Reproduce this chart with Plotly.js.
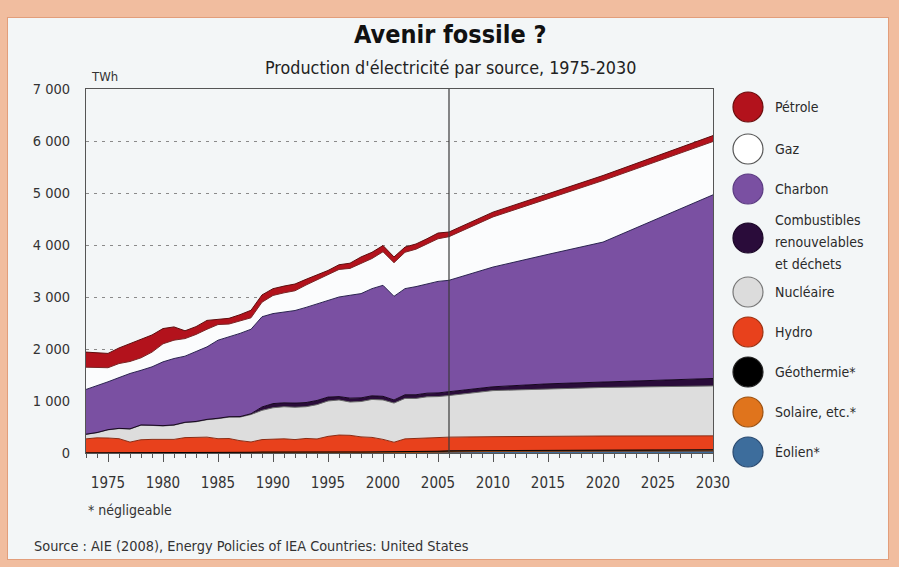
<!DOCTYPE html>
<html><head><meta charset="utf-8">
<script src="https://cdn.plot.ly/plotly-3.0.1.min.js"></script>
<style>
html,body{margin:0;padding:0;background:#f1bd9f;width:899px;height:567px;overflow:hidden;}
#frame{position:absolute;left:7px;top:17px;width:880px;height:541px;background:#f3f6f7;border:1px solid #e29e7b;}
#chart{position:absolute;left:0;top:0;width:899px;height:567px;}
</style></head><body>
<div id="frame"></div><div id="chart"></div>
<script>
// ---- data (TWh) ----
const years = [1973,1974,1975,1976,1977,1978,1979,1980,1981,1982,1983,1984,1985,1986,1987,1988,1989,1990,1991,1992,1993,1994,1995,1996,1997,1998,1999,2000,2001,2002,2003,2004,2005,2006,2010,2015,2020,2030];
const eolien = [0,0,0,0,0,0,0,0,0,0,0,0,1,1,2,2,2,3,3,3,3,3,3,3,3,3,4,6,7,10,11,14,18,27,28,30,31,33];
const solaire = [0,0,0,0,0,0,0,0,0,0,0,0,0,0,0,1,1,1,1,1,1,1,1,1,1,1,1,1,1,1,1,1,1,1,2,4,6,9];
const geothermie = [3,3,3,4,4,3,4,5,5,5,6,8,9,11,11,11,15,16,17,17,18,17,14,16,16,15,15,15,14,14,14,15,15,15,15,17,19,21];
const hydro = [269,289,285,271,206,252,258,260,257,291,300,297,265,266,224,198,240,252,252,237,258,249,302,325,320,291,280,240,185,247,256,255,261,262,269,271,271,267];
const nucleaire = [86,98,157,195,250,280,268,255,273,289,294,335,385,412,453,528,562,598,617,622,610,660,680,675,640,680,730,758,753,778,768,795,790,800,886,913,933,960];
const combustibles = [4,4,4,4,5,5,5,6,6,6,7,7,8,8,10,15,65,80,75,80,80,80,75,65,75,70,70,70,60,70,70,70,70,75,73,95,109,143];
const charbon = [860,896,920,976,1064,1050,1122,1227,1276,1271,1338,1394,1501,1532,1600,1625,1735,1731,1747,1780,1830,1860,1862,1915,1978,2005,2061,2135,1993,2041,2080,2107,2145,2141,2303,2490,2687,3532];
const gaz = [428,350,271,270,231,240,283,347,353,338,335,339,301,250,240,220,280,349,368,380,430,460,493,530,517,585,579,645,647,699,720,763,820,839,964,1070,1184,1025];
const petrole = [290,285,275,300,345,360,330,293,255,150,150,170,102,110,120,145,140,130,130,130,110,90,80,90,100,120,120,120,110,100,100,100,110,90,92,94,96,114];

const legendLabels = [["Pétrole"],["Gaz"],["Charbon"],["Combustibles","renouvelables","et déchets"],["Nucléaire"],["Hydro"],["Géothermie*"],["Solaire, etc.*"],["Éolien*"]];
const yTickVals = [0,1000,2000,3000,4000,5000,6000,7000];
const yTickText = ["0","1 000","2 000","3 000","4 000","5 000","6 000","7 000"];
const projectionStart = 2006;

// ---- styles ----
const FONT = '"DejaVu Sans Condensed","DejaVu Sans",sans-serif';
const series = [
  {name:"Éolien*", y:eolien, fill:"#3d6d9c", line:"#24466a"},
  {name:"Solaire, etc.*", y:solaire, fill:"#e0741c", line:"#a04a10"},
  {name:"Géothermie*", y:geothermie, fill:"#000000", line:"#000000"},
  {name:"Hydro", y:hydro, fill:"#e8411c", line:"#8c2a12"},
  {name:"Nucléaire", y:nucleaire, fill:"#dddddd", line:"#6a6a6a"},
  {name:"Combustibles", y:combustibles, fill:"#2a0c3a", line:"#16061f"},
  {name:"Charbon", y:charbon, fill:"#7a50a2", line:"#2a2250"},
  {name:"Gaz", y:gaz, fill:"#fbfcfd", line:"#7a2626"},
  {name:"Pétrole", y:petrole, fill:"#b3121c", line:"#5e0c0c"}
];
const traces = series.map(s => ({
  x: years, y: s.y, name: s.name, type: 'scatter', mode: 'lines',
  stackgroup: 'one', fillcolor: s.fill,
  line: {color: s.line, width: 1}, hoverinfo: 'skip', showlegend: false
}));

// plot area in pixels
const L = 86, R = 713, T = 89, B = 453;
const px = p => (p - L) / (R - L);
const py = p => (B - p) / (B - T);

const legendFill = ["#b3121c","#ffffff","#7a50a2","#2a0c3a","#dcdcdc","#e8411c","#000000","#e0741c","#3d6d9c"];
const legendLine = ["#6a0c0c","#555555","#5a3a80","#1a0626","#777777","#9a3010","#222222","#9a5010","#2a4a70"];
const legendY = [107,149,189,238,292,332,372,412,452];

const shapes = [{type:'line', xref:'x', yref:'paper', x0:projectionStart, x1:projectionStart, y0:0, y1:1, line:{color:'#3a3a3a', width:1.2}}];
const annotations = [];
legendY.forEach((cy, i) => {
  const r = 15, cx = 748;
  shapes.push({type:'circle', xref:'paper', yref:'paper', x0:px(cx-r), x1:px(cx+r), y0:py(cy+r), y1:py(cy-r),
    fillcolor: legendFill[i], line:{color: legendLine[i], width:1.2}});
  const lines = legendLabels[i];
  lines.forEach((t, k) => {
    const ty = lines.length === 1 ? cy : 220 + k * 22;
    annotations.push({xref:'paper', yref:'paper', x:px(773), y:py(ty), xanchor:'left', yanchor:'middle',
      text: t, showarrow:false, align:'left', font:{family:FONT, size:14, color:'#2a2a2a'}});
  });
});
annotations.push({xref:'paper', yref:'paper', x:px(450), y:py(34), xanchor:'center', yanchor:'middle', showarrow:false,
  text:'<b>Avenir fossile ?</b>', font:{family:FONT, size:25, color:'#111'}});
annotations.push({xref:'paper', yref:'paper', x:px(450), y:py(67), xanchor:'center', yanchor:'middle', showarrow:false,
  text:"Production d'électricité par source, 1975-2030", font:{family:FONT, size:17.8, color:'#222'}});
annotations.push({xref:'paper', yref:'paper', x:px(89), y:py(77), xanchor:'left', yanchor:'middle', showarrow:false,
  text:'TWh', font:{family:FONT, size:13, color:'#333'}});
annotations.push({xref:'paper', yref:'paper', x:px(86), y:py(510), xanchor:'left', yanchor:'middle', showarrow:false,
  text:'* négligeable', font:{family:FONT, size:14, color:'#333'}});
annotations.push({xref:'paper', yref:'paper', x:px(32), y:py(546), xanchor:'left', yanchor:'middle', showarrow:false,
  text:'Source : AIE (2008), Energy Policies of IEA Countries: United States', font:{family:FONT, size:14.4, color:'#333'}});

const layout = {
  width: 899, height: 567,
  margin: {l: L, r: 899 - R, t: T, b: 567 - B, pad: 0},
  paper_bgcolor: 'rgba(0,0,0,0)', plot_bgcolor: 'rgba(0,0,0,0)',
  font: {family: FONT, size: 14, color: '#333'},
  xaxis: {range: [1973, 2030], tick0: 1975, dtick: 5, ticks: 'outside', ticklen: 8, tickcolor: '#555', tickwidth: 1,
    showgrid: false, zeroline: false, showline: true, linecolor: '#555', mirror: true,
    minor: {dtick: 1, ticks: 'outside', ticklen: 4, tickcolor: '#555'},
    ticklabelstandoff: 8,
    tickfont: {family: FONT, size: 15, color: '#333'}},
  yaxis: {range: [0, 7000], tickvals: yTickVals, ticktext: yTickText, ticks: '', showline: true, linecolor: '#555', mirror: true,
    showgrid: true, gridcolor: '#8a8a8a', griddash: '3px,5px', gridwidth: 1, zeroline: false,
    ticklabelstandoff: 12, tickfont: {family: FONT, size: 14.5, color: '#333'}},
  shapes: shapes, annotations: annotations, showlegend: false
};
Plotly.newPlot('chart', traces, layout, {displayModeBar: false, staticPlot: true});
</script>
</body></html>
